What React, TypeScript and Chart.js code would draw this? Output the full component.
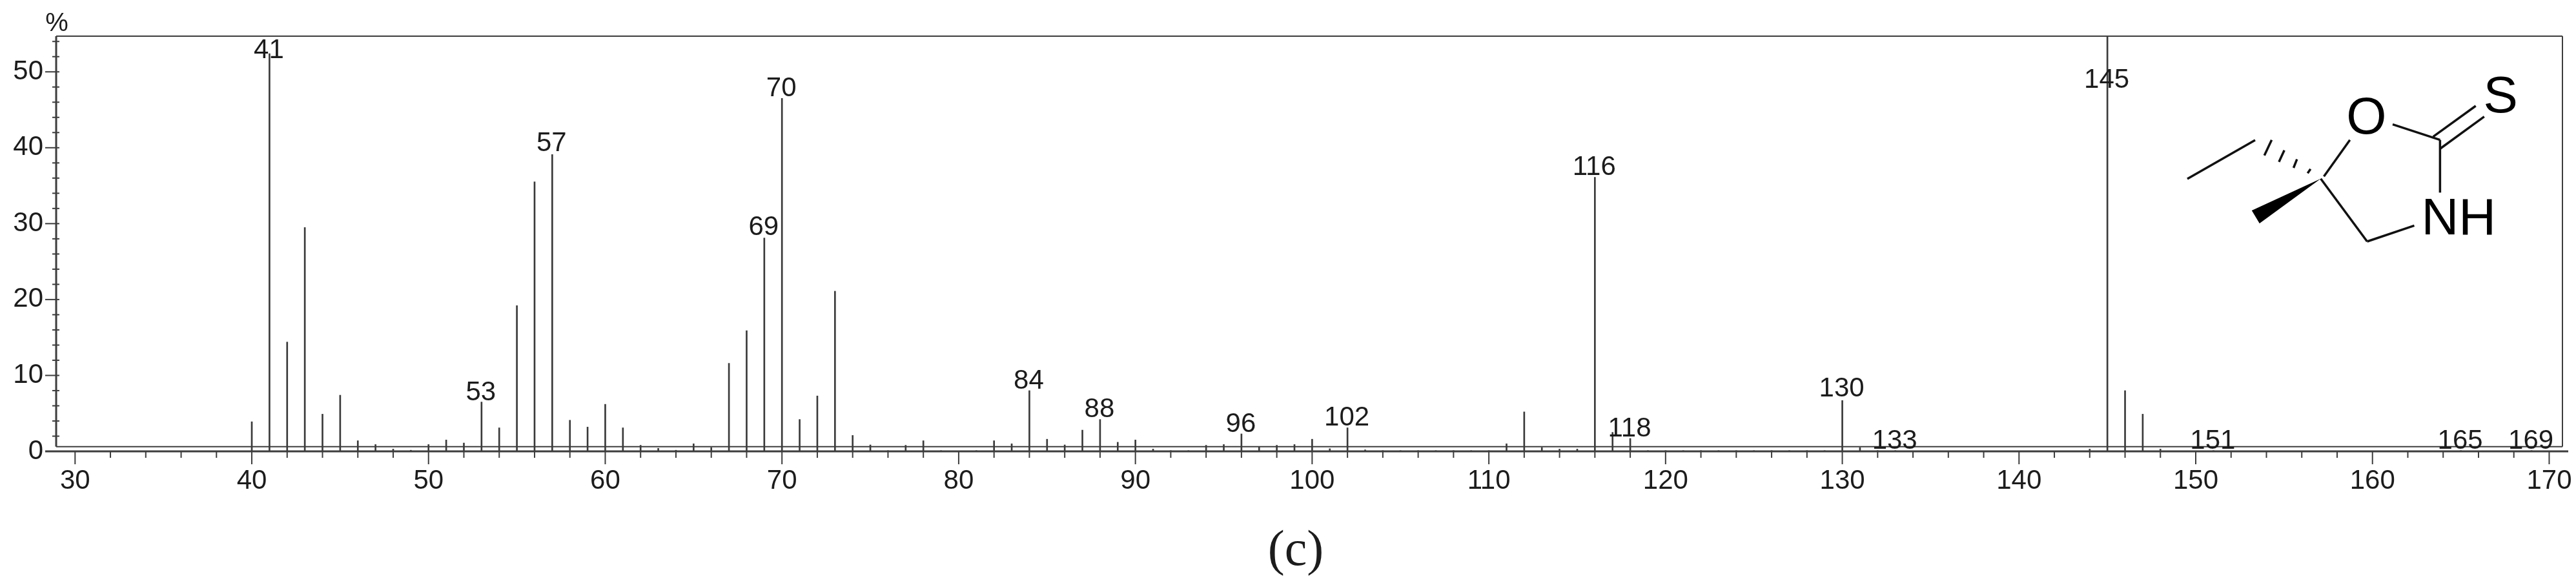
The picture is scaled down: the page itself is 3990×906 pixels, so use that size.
import React, { useEffect, useRef } from "react";
import { Chart, registerables } from "chart.js";

Chart.register(...registerables);

const massToCharge = [
  40, 41, 42, 43, 44, 45, 46, 47, 48, 49, 50, 51, 52, 53, 54, 55, 56, 57, 58, 59, 60, 61, 62, 63, 64, 65, 66, 67, 68, 69,
  70, 71, 72, 73, 74, 75, 76, 77, 78, 79, 80, 81, 82, 83, 84, 85, 86, 87, 88, 89, 90, 91, 92, 93, 94, 95, 96, 97, 98, 99,
  100, 101, 102, 103, 104, 105, 106, 107, 108, 109, 110, 111, 112, 113, 114, 115, 116, 117, 118, 119, 120, 121, 122, 123,
  124, 125, 126, 127, 128, 129, 130, 131, 132, 133, 144, 145, 146, 147, 148, 151, 165, 169,
];
const intensity = [
  3.9, 52.4, 14.4, 29.5, 4.9, 7.4, 1.4, 0.9, 0.3, 0.15, 0.9, 1.5, 1.1, 6.5, 3.1, 19.2, 35.5, 39.1, 4.1, 3.2, 6.2, 3.1, 0.8, 0.4, 0.15, 1.0, 0.5, 11.6, 15.9, 28.1,
  46.5, 4.2, 7.3, 21.1, 2.1, 0.85, 0.1, 0.8, 1.4, 0.1, 0.05, 0.1, 1.4, 1.0, 8.0, 1.6, 0.85, 2.8, 4.2, 1.2, 1.5, 0.3, 0.1, 0.1, 0.8, 0.9, 2.3, 0.6, 0.8, 0.9,
  1.6, 0.35, 3.1, 0.2, 0.1, 0.1, 0.1, 0.1, 0.1, 0.1, 0.1, 1.0, 5.2, 0.5, 0.3, 0.3, 36.1, 2.5, 1.7, 0.1, 0.1, 0.1, 0.1, 0.1,
  0.1, 0.1, 0.1, 0.1, 0.1, 0.1, 6.7, 0.5, 0.1, 0.1, 0.3, 54.7, 8.0, 4.9, 0.3, 0.1, 0.1, 0.1,
];
const peakLabels = [41, 53, 57, 69, 70, 84, 88, 96, 102, 116, 118, 130, 133, 145, 151, 165, 169];
const peakLabelLevels = [52.8, 7.7, 40.5, 29.5, 47.8, 9.2, 5.5, 3.56, 4.4, 37.4, 2.96, 8.2, 1.35, 48.9, 1.35, 1.35, 1.35];

const xTickValues: number[] = [];
for (let v = 30; v <= 170; v += 2) xTickValues.push(v);
const yTickValues: number[] = [];
for (let v = 0; v <= 54; v += 2) yTickValues.push(v);

const FONT = '"Liberation Sans", Arial, sans-serif';
const INK = "#1c1c1c";
const LINE = "#3d3d3d";

function line(ctx: CanvasRenderingContext2D, x1: number, y1: number, x2: number, y2: number) {
  ctx.beginPath();
  ctx.moveTo(x1, y1);
  ctx.lineTo(x2, y2);
  ctx.stroke();
}

const furniture = {
  id: "furniture",
  afterDraw(chart: any) {
    const ctx: CanvasRenderingContext2D = chart.ctx;
    const { x, y } = chart.scales;
    const area = chart.chartArea;
    const zero = y.getPixelForValue(0);
    const boxBottom = y.getPixelForValue(0.62);
    ctx.save();
    ctx.strokeStyle = LINE;
    ctx.lineCap = "butt";

    ctx.lineWidth = 2;
    line(ctx, area.left, area.top, area.right, area.top);
    line(ctx, area.right, area.top, area.right, boxBottom);
    line(ctx, area.left, boxBottom, area.right, boxBottom);
    ctx.lineWidth = 3;
    line(ctx, area.left, area.top, area.left, boxBottom);
    line(ctx, area.left - 17, zero, area.right + 9, zero);

    ctx.lineWidth = 2;
    for (const t of xTickValues) {
      const px = x.getPixelForValue(t);
      line(ctx, px, zero, px, zero + (t % 10 === 0 ? 20 : 10));
    }
    for (const t of yTickValues) {
      const py = y.getPixelForValue(t);
      if (t % 10 === 0) line(ctx, area.left - 17, py, area.left + 5, py);
      else line(ctx, area.left - 6, py, area.left + 5, py);
    }

    ctx.fillStyle = INK;
    ctx.textAlign = "center";
    ctx.textBaseline = "middle";
    ctx.font = `42px ${FONT}`;
    peakLabels.forEach((mz, i) => {
      ctx.fillText(String(mz), x.getPixelForValue(mz) - 1, y.getPixelForValue(peakLabelLevels[i]));
    });
    ctx.font = `40px ${FONT}`;
    ctx.fillText("%", area.left + 1, 37);

    ctx.font = '78px "Liberation Serif", serif';
    ctx.fillText("(c)", 2007, 855);

    // molecule inset
    ctx.strokeStyle = "#111";
    ctx.fillStyle = "#000";
    ctx.lineWidth = 3.5;
    const bonds = [
      [3388, 277, 3493, 217],
      [3518.6, 216.7, 3507.3, 240.7],
      [3538.2, 232.7, 3529.9, 250.7],
      [3557.8, 246.7, 3552.5, 260],
      [3578.8, 261.7, 3574.3, 268.3],
      [3599.5, 273.3, 3639.8, 216.7],
      [3594.6, 276.7, 3666.5, 374],
      [3666.5, 374, 3739.5, 349.3],
      [3706, 192.7, 3779.4, 216.7],
      [3779.4, 216.7, 3779.4, 298.3],
      [3768.8, 211.7, 3834.7, 164],
      [3780, 230, 3847.8, 180.7],
    ];
    bonds.forEach((b) => line(ctx, b[0], b[1], b[2], b[3]));
    ctx.beginPath();
    ctx.moveTo(3594.6, 276.7);
    ctx.lineTo(3487.8, 326);
    ctx.lineTo(3499.8, 346);
    ctx.closePath();
    ctx.fill();
    ctx.font = `80px ${FONT}`;
    ctx.fillText("O", 3665.4, 185);
    ctx.fillText("S", 3873.3, 152);
    ctx.fillText("NH", 3808.3, 341);
    ctx.restore();
  },
};

export default function App() {
  const ref = useRef<HTMLCanvasElement | null>(null);
  useEffect(() => {
    if (!ref.current) return;
    const chart = new Chart(ref.current, {
      type: "bar",
      data: {
        datasets: [
          {
            label: "Relative intensity (%)",
            data: massToCharge.map((mz, i) => ({ x: mz, y: intensity[i] })),
            backgroundColor: "#3a3a3a",
            barThickness: 2,
          },
        ],
      },
      options: {
        responsive: false,
        animation: false,
        devicePixelRatio: 1,
        layout: { padding: { top: 56, right: 21, left: 0, bottom: 0 } },
        plugins: { legend: { display: false }, tooltip: { enabled: false }, title: { display: false } },
        scales: {
          x: {
            type: "linear",
            offset: false,
            min: 28.93,
            max: 170.75,
            grid: { display: false, drawTicks: false, tickLength: 0 },
            border: { display: false },
            afterBuildTicks: (s: any) => {
              s.ticks = xTickValues.map((value) => ({ value }));
            },
            afterFit: (s: any) => {
              s.height = 207;
              s.paddingLeft = 0;
              s.paddingRight = 0;
            },
            ticks: {
              autoSkip: false,
              maxRotation: 0,
              minRotation: 0,
              padding: 21,
              color: INK,
              font: { family: FONT, size: 42 },
              callback: (v: any) => (Number(v) % 10 === 0 ? String(v) : ""),
            },
          },
          y: {
            type: "linear",
            min: 0,
            max: 54.7,
            grid: { display: false, drawTicks: false, tickLength: 0 },
            border: { display: false },
            afterBuildTicks: (s: any) => {
              s.ticks = yTickValues.map((value) => ({ value }));
            },
            afterFit: (s: any) => {
              s.width = 87;
              s.paddingTop = 0;
              s.paddingBottom = 0;
            },
            ticks: {
              autoSkip: false,
              padding: 20,
              color: INK,
              font: { family: FONT, size: 42 },
              callback: (v: any) => (Number(v) % 10 === 0 ? String(v) : ""),
            },
          },
        },
      },
      plugins: [furniture],
    } as any);
    return () => chart.destroy();
  }, []);
  return (
    <div style={{ position: "absolute", left: 0, top: 0, width: 3990, height: 906, background: "#fff" }}>
      <canvas ref={ref} width={3990} height={906} style={{ display: "block" }} />
    </div>
  );
}
